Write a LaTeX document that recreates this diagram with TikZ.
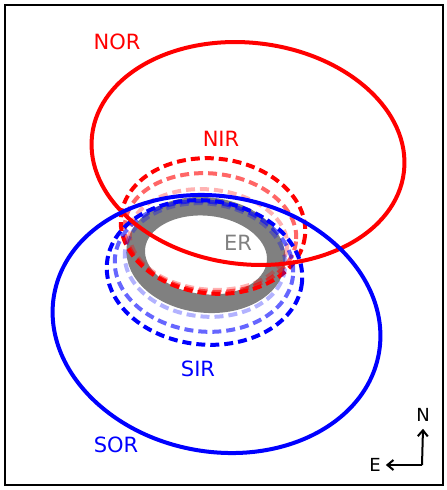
\documentclass[tikz,border=0pt]{standalone}
\usepackage{fontspec}
\setmainfont{DejaVu Sans}
\usetikzlibrary{arrows.meta}

\definecolor{ergray}{RGB}{128,128,128}

\tikzset{
  lbl/.style={font=\fontsize{21}{25}\selectfont, inner sep=0pt},
  orbit/.style={line width=4pt},
  dorbit/.style={line width=4pt, dash pattern=on 9pt off 5pt},
  ering/.style={draw=ergray, line width=18.5pt},
  compass/.style={line width=2pt, -{Straight Barb[length=6pt,width=10pt]}}
}

\begin{document}
\begin{tikzpicture}[x=1pt,y=1pt,yscale=-1]
\useasboundingbox (0,0) rectangle (447,490);

% frame
\draw[line width=1.3pt] (5,5) rectangle (443,485);

% equatorial ring
\draw[ering, rotate around={6:(206,255)}] (206,255) ellipse [x radius=70.5, y radius=48.5];

% northern inner rings
\draw[dorbit, red, opacity=0.3, rotate around={6:(208.5,239.5)}] (208.5,239.5) ellipse [x radius=79, y radius=50];
\draw[dorbit, red, opacity=0.6, rotate around={6:(210.5,232.5)}] (210.5,232.5) ellipse [x radius=86, y radius=59];
\draw[dorbit, red, rotate around={6:(213,226)}] (213,226) ellipse [x radius=92.5, y radius=67.5];

% southern inner rings
\draw[dorbit, blue, opacity=0.3, rotate around={6:(205,260)}] (205,260) ellipse [x radius=80.5, y radius=56.5];
\draw[dorbit, blue, opacity=0.6, rotate around={6:(204,266.5)}] (204,266.5) ellipse [x radius=89.5, y radius=65];
\draw[dorbit, blue, rotate around={6:(204.5,272.5)}] (204.5,272.5) ellipse [x radius=98, y radius=72];

% outer rings
\draw[orbit, red, rotate around={6.7:(248,153.5)}] (248,153.5) ellipse [x radius=157, y radius=110.7];
\draw[orbit, blue, rotate around={10.5:(216.5,324)}] (216.5,324) ellipse [x radius=165, y radius=127.6];

% Text Node
\node[lbl, red] (nor) at (117,42) {NOR};
\node[lbl, red] (nir) at (221,139) {NIR};
\node[lbl, ergray] (er) at (238,243) {ER};
\node[lbl, blue] (sir) at (198,369) {SIR};
\node[lbl, blue] (sor) at (116,445) {SOR};

% compass
\coordinate (corner) at (422,465);
\node[lbl, font=\fontsize{18}{22}\selectfont] (north) at (423,415) {N};
\node[lbl, font=\fontsize{18}{22}\selectfont] (east) at (375,465) {E};
\draw[compass] (corner) -- ([yshift=7pt]north.south);
\draw[compass] (corner) -- ([xshift=5pt]east.east);

\end{tikzpicture}
\end{document}
